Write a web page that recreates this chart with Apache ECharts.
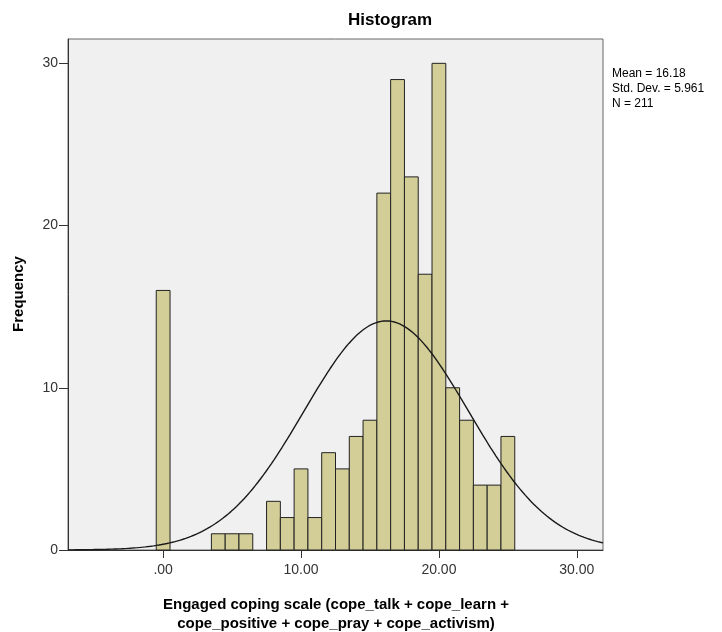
<!DOCTYPE html>
<html>
<head>
<meta charset="utf-8">
<script src="https://cdn.jsdelivr.net/npm/echarts@6/dist/echarts.min.js"></script>
<style>
  html, body { margin: 0; padding: 0; background: #fff; }
  #chart { width: 722px; height: 632px; }
</style>
</head>
<body>
<div id="chart"></div>
<script>
// Histogram bins: centre of each one-unit bin and its frequency
const binCenters = [0, 4, 5, 6, 8, 9, 10, 11, 12, 13, 14, 15, 16, 17, 18, 19, 20, 21, 22, 23, 24, 25];
const frequencies = [16, 1, 1, 1, 3, 2, 5, 2, 6, 5, 7, 8, 22, 29, 23, 17, 30, 10, 8, 4, 4, 7];
const binWidth = 1;

// Summary statistics shown beside the plot
const mean = 16.18;
const stdDev = 5.961;
const n = 211;

const xTickValues = [0, 10, 20, 30];
const yTickValues = [0, 10, 20, 30];
const xMin = -6.9, xMax = 31.9;
const yMax = 31.5;

// Fitted normal curve, scaled to counts per bin
const curve = [];
const steps = 200;
for (let i = 0; i <= steps; i++) {
  const x = xMin + (xMax - xMin) * i / steps;
  const z = (x - mean) / stdDev;
  const y = n * binWidth * Math.exp(-0.5 * z * z) / (stdDev * Math.sqrt(2 * Math.PI));
  curve.push([x, y]);
}

const fontFamily = '"Liberation Sans", Arial, sans-serif';
const chart = echarts.init(document.getElementById('chart'));

chart.setOption({
  animation: false,
  backgroundColor: '#ffffff',
  grid: {
    left: 68, right: 119, top: 39, bottom: 82,
    show: true, backgroundColor: '#f0f0f0', borderColor: '#666', borderWidth: 1
  },
  graphic: [
    {
      type: 'text', left: 348, top: 12,
      style: { text: 'Histogram', font: 'bold 17px ' + fontFamily, fill: '#000' }
    },
    {
      type: 'text', left: 612, top: 66,
      style: {
        text: 'Mean = ' + mean.toFixed(2) + '\nStd. Dev. = ' + stdDev.toFixed(3) + '\nN = ' + n,
        font: '12px ' + fontFamily, fill: '#000', lineHeight: 15
      }
    },
    {
      type: 'text', x: 19, y: 294, rotation: Math.PI / 2, originX: 0, originY: 0,
      style: { text: 'Frequency', font: 'bold 15px ' + fontFamily, fill: '#000', align: 'center', verticalAlign: 'middle' }
    },
    {
      type: 'text', x: 336, y: 595,
      style: {
        text: 'Engaged coping scale (cope_talk + cope_learn +\ncope_positive + cope_pray + cope_activism)',
        font: 'bold 15px ' + fontFamily, fill: '#000', align: 'center', lineHeight: 19
      }
    }
  ],
  xAxis: {
    type: 'value', min: xMin, max: xMax,
    splitLine: { show: false },
    axisLine: { show: true, onZero: false, lineStyle: { color: '#333', width: 1 } },
    axisTick: { show: true, customValues: xTickValues, length: 8, lineStyle: { color: '#333' } },
    axisLabel: {
      customValues: xTickValues, color: '#333', fontSize: 14, fontFamily: fontFamily, margin: 13,
      formatter: v => (v === 0 ? '.00' : v.toFixed(2))
    }
  },
  yAxis: {
    type: 'value', min: 0, max: yMax,
    splitLine: { show: false },
    axisLine: { show: true, onZero: false, lineStyle: { color: '#333', width: 1 } },
    axisTick: { show: true, customValues: yTickValues, length: 9, lineStyle: { color: '#333' } },
    axisLabel: { customValues: yTickValues, color: '#333', fontSize: 14, fontFamily: fontFamily, margin: 10 }
  },
  series: [
    {
      type: 'custom',
      data: binCenters.map((c, i) => [c, frequencies[i]]),
      renderItem: function (params, api) {
        const c = api.value(0);
        const f = api.value(1);
        const p0 = api.coord([c - binWidth / 2, 0]);
        const p1 = api.coord([c + binWidth / 2, f]);
        return {
          type: 'rect',
          shape: { x: p0[0], y: p1[1], width: p1[0] - p0[0], height: p0[1] - p1[1] },
          style: { fill: '#d3ce97', stroke: '#222', lineWidth: 1 }
        };
      },
      z: 2
    },
    {
      type: 'line',
      data: curve,
      showSymbol: false,
      symbol: 'none',
      lineStyle: { color: '#1a1a1a', width: 1.4 },
      z: 3
    }
  ]
});
</script>
</body>
</html>
